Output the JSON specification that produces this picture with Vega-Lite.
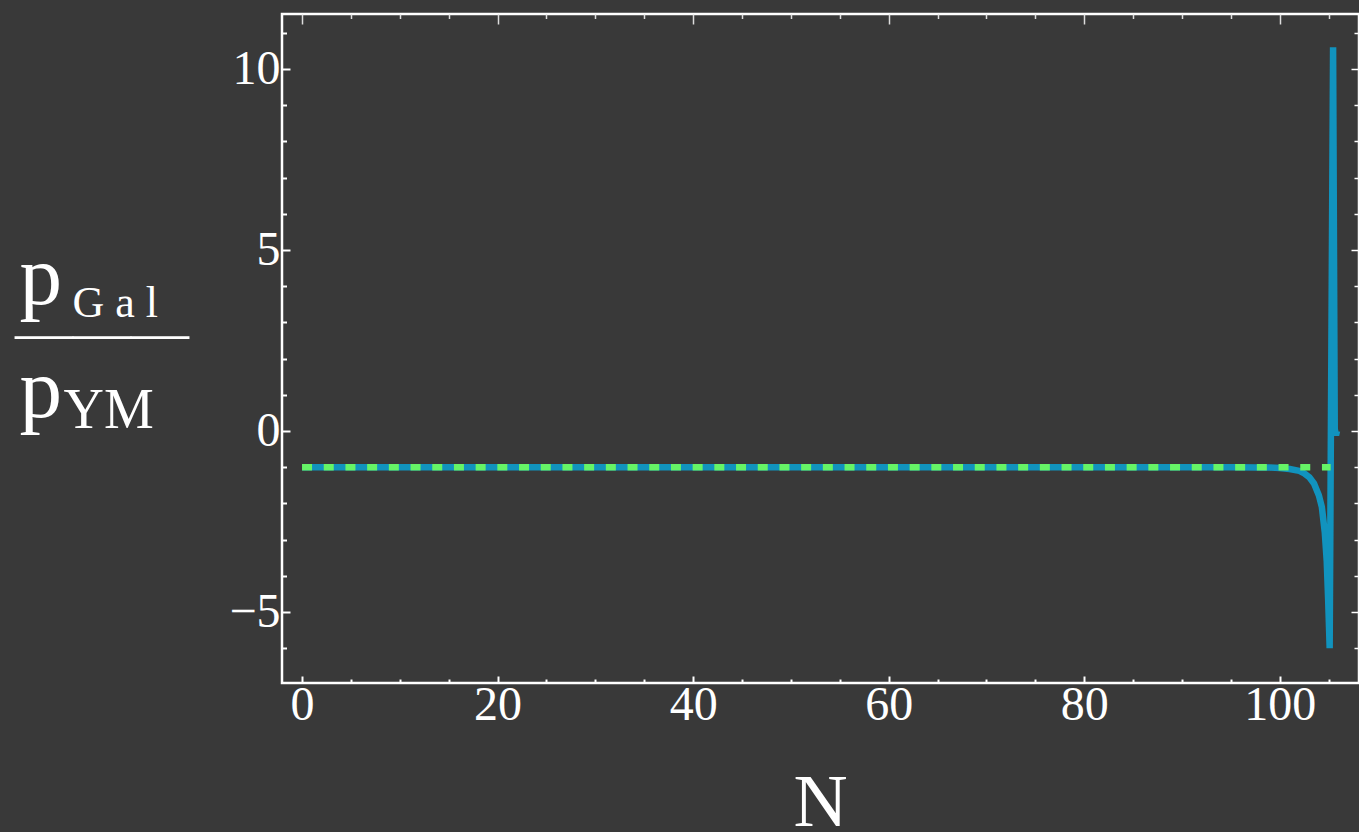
{
  "$schema": "https://vega.github.io/schema/vega-lite/v6.json",
  "width": 1077,
  "height": 669,
  "autosize": {"type": "none"},
  "padding": {"left": 282, "top": 14, "right": 0, "bottom": 149},
  "background": "#393939",
  "title": {
    "text": "———",
    "orient": "top",
    "anchor": "start",
    "frame": "group",
    "baseline": "alphabetic",
    "offset": 0,
    "dx": -267,
    "dy": 400,
    "font": "Liberation Serif",
    "fontSize": 58,
    "fontWeight": "normal",
    "color": "#ffffff"
  },
  "config": {
    "view": {"stroke": "#ffffff", "strokeWidth": 2.5, "fill": "#393939"},
    "axis": {
      "labelFont": "Liberation Serif",
      "titleFont": "Liberation Serif",
      "labelColor": "#ffffff",
      "titleColor": "#ffffff",
      "tickColor": "#ffffff",
      "titleFontWeight": "normal",
      "domain": false,
      "grid": false,
      "labelOverlap": false,
      "labelFlush": false
    }
  },
  "datasets": {
    "blue": [
      {"N": 0, "v": -1}, {"N": 20, "v": -1}, {"N": 40, "v": -1}, {"N": 60, "v": -1},
      {"N": 80, "v": -1}, {"N": 95, "v": -1}, {"N": 98, "v": -1.005}, {"N": 99, "v": -1.01},
      {"N": 100, "v": -1.02}, {"N": 101, "v": -1.05}, {"N": 102, "v": -1.1}, {"N": 102.5, "v": -1.17},
      {"N": 103, "v": -1.27}, {"N": 103.5, "v": -1.45}, {"N": 104, "v": -1.78}, {"N": 104.3, "v": -2.1},
      {"N": 104.6, "v": -2.8}, {"N": 104.8, "v": -3.6}, {"N": 104.95, "v": -4.7}, {"N": 105.1, "v": -6.0},
      {"N": 105.45, "v": 10.6}, {"N": 105.62, "v": 0.05}, {"N": 105.75, "v": -0.12}, {"N": 105.85, "v": 0.0}
    ],
    "green": [
      {"N": 0, "v": -1}, {"N": 105.2, "v": -1}
    ]
  },
  "layer": [
    {
      "mark": {"type": "rule", "color": "#707070", "strokeWidth": 2},
      "encoding": {
        "y": {"datum": 0, "type": "quantitative", "scale": {"domain": [-6.96, 11.52], "nice": false, "zero": false}, "axis": null}
      }
    },
    {
      "mark": {"type": "rule", "color": "#606060", "strokeWidth": 2},
      "encoding": {
        "x": {"datum": 0, "type": "quantitative", "scale": {"domain": [-2.05, 108.1], "nice": false, "zero": false}, "axis": null}
      }
    },
    {
      "data": {"name": "blue"},
      "mark": {"type": "line", "color": "#1193be", "strokeWidth": 6.5, "strokeJoin": "bevel"},
      "encoding": {
        "x": {
          "field": "N", "type": "quantitative",
          "scale": {"domain": [-2.05, 108.1], "nice": false, "zero": false},
          "axis": {
            "orient": "bottom",
            "values": [0, 5, 10, 15, 20, 25, 30, 35, 40, 45, 50, 55, 60, 65, 70, 75, 80, 85, 90, 95, 100, 105],
            "labelExpr": "datum.value % 20 === 0 ? datum.label : ''",
            "tickSize": {"condition": {"test": "datum.value % 20 === 0", "value": -7}, "value": -4},
            "tickWidth": 2,
            "labelFontSize": 48,
            "labelPadding": 5,
            "title": "N",
            "titleFontSize": 75,
            "titleAlign": "center",
            "titleBaseline": "alphabetic",
            "titleX": 538,
            "titleY": 142
          }
        },
        "y": {
          "field": "v", "type": "quantitative",
          "scale": {"domain": [-6.96, 11.52], "nice": false, "zero": false},
          "axis": {
            "orient": "left",
            "values": [-6, -5, -4, -3, -2, -1, 0, 1, 2, 3, 4, 5, 6, 7, 8, 9, 10, 11],
            "labelExpr": "datum.value % 5 === 0 ? datum.label : ''",
            "tickSize": {"condition": {"test": "datum.value % 5 === 0", "value": -8}, "value": -4.5},
            "tickWidth": 2,
            "labelFontSize": 48,
            "labelPadding": 10,
            "title": ["p", "p"],
            "titleFontSize": 85,
            "titleLineHeight": 113,
            "titleAngle": 0,
            "titleAlign": "left",
            "titleBaseline": "alphabetic",
            "titleX": -263,
            "titleY": 289
          }
        }
      }
    },
    {
      "data": {"name": "green"},
      "mark": {"type": "line", "color": "#66f466", "strokeWidth": 6.5, "strokeDash": [10, 11.7]},
      "encoding": {
        "x": {
          "field": "N", "type": "quantitative",
          "scale": {"domain": [-2.05, 108.1], "nice": false, "zero": false},
          "axis": {
            "orient": "top",
            "values": [0, 5, 10, 15, 20, 25, 30, 35, 40, 45, 50, 55, 60, 65, 70, 75, 80, 85, 90, 95, 100, 105],
            "labels": false,
            "tickSize": {"condition": {"test": "datum.value % 20 === 0", "value": -10}, "value": -4.5},
            "tickWidth": 1.5,
            "tickColor": "#dddddd",
            "title": "YM",
            "titleFontSize": 56,
            "titleAngle": 0,
            "titleAlign": "left",
            "titleBaseline": "alphabetic",
            "titleX": -219,
            "titleY": 413
          }
        },
        "y": {
          "field": "v", "type": "quantitative",
          "scale": {"domain": [-6.96, 11.52], "nice": false, "zero": false},
          "axis": {
            "orient": "right",
            "values": [-6, -5, -4, -3, -2, -1, 0, 1, 2, 3, 4, 5, 6, 7, 8, 9, 10, 11],
            "labels": false,
            "tickSize": {"condition": {"test": "datum.value % 5 === 0", "value": -8}, "value": -5},
            "tickWidth": 1.5,
            "title": "G a l",
            "titleFontSize": 44,
            "titleAngle": 0,
            "titleAlign": "left",
            "titleBaseline": "alphabetic",
            "titleX": -1287,
            "titleY": 302
          }
        }
      }
    }
  ],
  "resolve": {"axis": {"x": "independent", "y": "independent"}}
}
